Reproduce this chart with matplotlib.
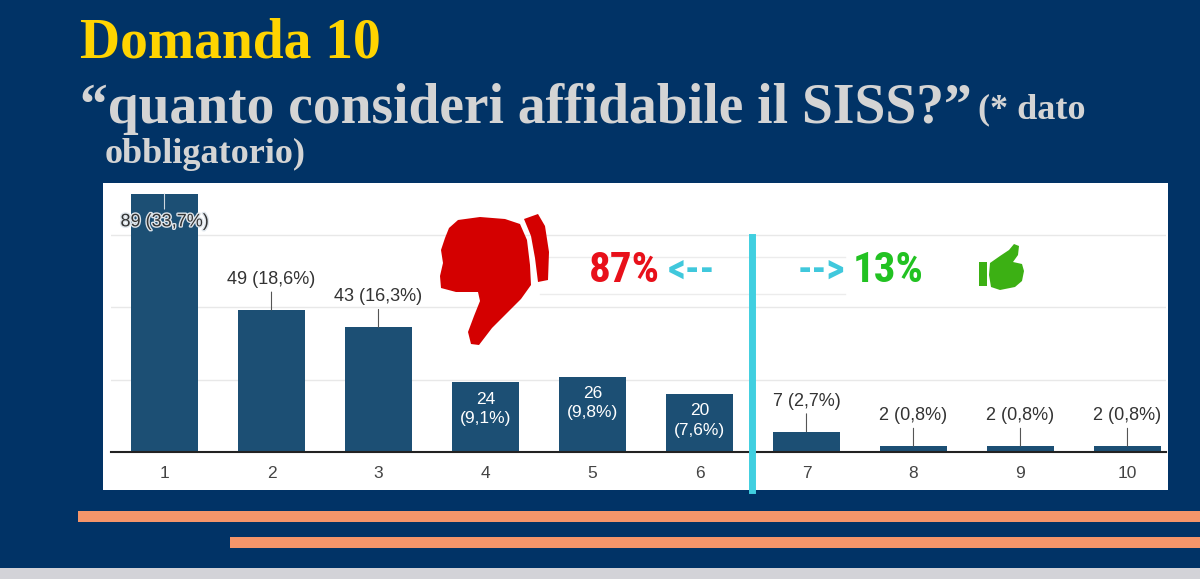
import matplotlib
matplotlib.use("Agg")
import matplotlib.pyplot as plt
import matplotlib.patheffects as pe
from matplotlib.patches import Rectangle, Polygon
from matplotlib.lines import Line2D

# data
categories = ["1", "2", "3", "4", "5", "6", "7", "8", "9", "10"]
counts = [89, 49, 43, 24, 26, 20, 7, 2, 2, 2]
percents = ["33,7%", "18,6%", "16,3%", "9,1%", "9,8%", "7,6%", "2,7%", "0,8%", "0,8%", "0,8%"]
inside_labels = [3, 4, 5]   # bars 4,5,6 have the label inside, white, on two lines
share_negative = "87%"
share_positive = "13%"

W, H = 1200, 579
NAVY = "#013366"
BAR = "#1c4f74"


def fx(x):
    return x / W


def fy(y):
    return 1 - y / H


fig = plt.figure(figsize=(W / 100, H / 100), dpi=100)
fig.patch.set_facecolor(NAVY)

# titles
serif = "Liberation Serif"
fig.text(fx(80), fy(58), "Domanda 10", color="#ffd400", fontsize=40,
         fontweight="bold", family=serif, va="baseline")
fig.text(fx(80), fy(123), "\u201cquanto consideri affidabile il SISS?\u201d",
         color="#d4d4d4", fontsize=40, fontweight="bold", family=serif, va="baseline")
fig.text(fx(978), fy(118), "(* dato", color="#d4d4d4", fontsize=26,
         fontweight="bold", family=serif, va="baseline")
fig.text(fx(105), fy(163), "obbligatorio)", color="#d4d4d4", fontsize=26,
         fontweight="bold", family=serif, va="baseline")

# white panel
fig.patches.append(Rectangle((fx(103), fy(490)), fx(1168) - fx(103), fy(183) - fy(490),
                             transform=fig.transFigure, facecolor="white",
                             edgecolor="none", zorder=-2))

# orange stripes and bottom strip
fig.patches.append(Rectangle((fx(78), fy(522)), 1, fy(511) - fy(522),
                             transform=fig.transFigure, facecolor="#f4956a", edgecolor="none"))
fig.patches.append(Rectangle((fx(230), fy(548)), 1, fy(537) - fy(548),
                             transform=fig.transFigure, facecolor="#f4956a", edgecolor="none"))
fig.patches.append(Rectangle((0, 0), 1, fy(568), transform=fig.transFigure,
                             facecolor="#d3d3d8", edgecolor="none"))

# chart axes
ax = fig.add_axes([fx(111), fy(452), fx(1166) - fx(111), fy(183) - fy(452)])
ax.set_zorder(2)
ax.set_facecolor("white")
x = list(range(1, len(categories) + 1))
ax.bar(x, counts, width=0.62, color=BAR, zorder=3)
ax.set_xlim(0.5, 10.36)
ax.set_ylim(0, 92.8)
ax.set_yticks([25, 50, 75])
ax.yaxis.grid(True, color="#e8e8e8", lw=1, zorder=0)
ax.tick_params(axis="y", left=False, labelleft=False)
ax.set_xticks(x)
ax.set_xticklabels(categories, fontsize=12.5, color="#444", family="Liberation Sans")
ax.tick_params(axis="x", length=0, pad=10)
for s in ["top", "left", "right"]:
    ax.spines[s].set_visible(False)
ax.spines["bottom"].set_color("#222")
ax.spines["bottom"].set_linewidth(1.5)
ax.spines["bottom"].set_zorder(5)

for i, (xi, c, p) in enumerate(zip(x, counts, percents)):
    if i in inside_labels:
        ax.annotate(f"{c}\n({p})", xy=(xi, c), xytext=(0, -19), textcoords="offset points",
                    ha="center", va="center", color="white", fontsize=12.5,
                    family="Liberation Sans", linespacing=1.35, zorder=6)
    elif i == 0:
        ax.annotate(f"{c} ({p})", xy=(xi, c), xytext=(0, -20), textcoords="offset points",
                    ha="center", va="center", color="#333", fontsize=13,
                    family="Liberation Sans", zorder=6,
                    path_effects=[pe.withStroke(linewidth=2, foreground="#dde4ea")],
                    arrowprops=dict(arrowstyle="-", color="#cfd8e0", lw=0.8, shrinkA=1, shrinkB=0))
    else:
        ax.annotate(f"{c} ({p})", xy=(xi, c), xytext=(0, 22), textcoords="offset points",
                    ha="center", va="center", color="#333", fontsize=13,
                    family="Liberation Sans", zorder=6,
                    arrowprops=dict(arrowstyle="-", color="#555", lw=0.8, shrinkA=1, shrinkB=0))

# faint lines of the overlay box
for yy in (257, 294):
    fig.lines.append(Line2D([fx(540), fx(845)], [fy(yy), fy(yy)], transform=fig.transFigure,
                            color="#ececec", lw=1, zorder=4))

# cyan divider
fig.lines.append(Line2D([fx(752), fx(752)], [fy(237), fy(490)], transform=fig.transFigure,
                        color="#40cfe0", lw=5, zorder=10))

# percentages and arrows
narrow = ["Liberation Sans Narrow", "DejaVu Sans Condensed", "Roboto Condensed", "Liberation Sans"]
fig.text(fx(660), fy(271), share_negative, color="#e8101a", fontsize=31, fontweight="bold",
         family=narrow, ha="right", va="center", zorder=11)
fig.text(fx(668), fy(271), "<--", color="#40c8dc", fontsize=29, fontweight="bold",
         family=narrow, ha="left", va="center", zorder=11)
fig.text(fx(845), fy(271), "-->", color="#40c8dc", fontsize=29, fontweight="bold",
         family=narrow, ha="right", va="center", zorder=11)
fig.text(fx(853), fy(271), share_positive, color="#22c222", fontsize=31, fontweight="bold",
         family=narrow, ha="left", va="center", zorder=11)

# thumbs down (red)
down = [(458, 220), (480, 217), (505, 219), (520, 224), (527, 240), (530, 265), (531, 285),
        (521, 299), (506, 314), (492, 328), (479, 345), (471, 344), (468, 332), (474, 316),
        (480, 301), (478, 292), (456, 292), (441, 288), (440, 276), (443, 263), (441, 250),
        (445, 238), (449, 228)]
cuff = [(524, 219), (538, 214), (545, 226), (549, 252), (548, 280), (538, 282), (535, 258),
        (531, 236)]
for poly in (down, cuff):
    fig.patches.append(Polygon([(fx(a), fy(b)) for a, b in poly], closed=True,
                               transform=fig.transFigure, facecolor="#d40000",
                               edgecolor="none", zorder=12))

# thumbs up (green)
up = [(990, 263), (1000, 256), (1009, 250), (1014, 244), (1019, 246), (1018, 255),
      (1013, 262), (1022, 264), (1024, 271), (1022, 281), (1015, 287), (1000, 290),
      (991, 287), (989, 275)]
gcuff = [(979, 262), (987, 262), (987, 286), (979, 286)]
for poly in (up, gcuff):
    fig.patches.append(Polygon([(fx(a), fy(b)) for a, b in poly], closed=True,
                               transform=fig.transFigure, facecolor="#3cb014",
                               edgecolor="none", zorder=12))

plt.savefig("out.png", dpi=100, facecolor=fig.get_facecolor())
